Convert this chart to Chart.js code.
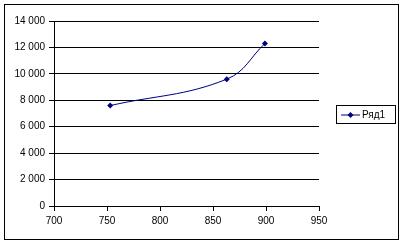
<!DOCTYPE html>
<html>
<head>
<meta charset="utf-8">
<script src="https://cdn.jsdelivr.net/npm/chart.js@4/dist/chart.umd.min.js"></script>
<style>
html,body{margin:0;padding:0;background:#fff;}
#wrap{width:403px;height:245px;position:relative;}
</style>
</head>
<body>
<div id="wrap"><canvas id="c" width="403" height="245"></canvas></div>
<script>
const seriesName = "Ряд1";
const xValues = [753, 863, 899];
const yValues = [7600, 9600, 12300];
const xTicks = [700, 750, 800, 850, 900, 950];
const yTicks = [0, 2000, 4000, 6000, 8000, 10000, 12000, 14000];

const NAVY = '#000080';
const FONT = {family: 'Liberation Sans, Arial, sans-serif', size: 10};

function fmt(v){ return String(v).replace(/\B(?=(\d{3})+(?!\d))/g, ' '); }

const frame = {
  id: 'frame',
  beforeDraw(chart){
    const ctx = chart.ctx;
    ctx.save();
    ctx.fillStyle = '#fff';
    ctx.fillRect(0,0,chart.width,chart.height);
    ctx.strokeStyle = '#000';
    ctx.lineWidth = 1;
    ctx.strokeRect(4.5, 4.5, 394, 235);
    ctx.restore();
  },
  afterDraw(chart){
    const ctx = chart.ctx;
    ctx.save();
    // legend box
    ctx.strokeStyle = '#000';
    ctx.lineWidth = 1;
    ctx.strokeRect(336.5, 105.5, 59, 18);
    const cy = 115;
    ctx.strokeStyle = NAVY;
    ctx.beginPath(); ctx.moveTo(341, cy); ctx.lineTo(360, cy); ctx.stroke();
    ctx.fillStyle = NAVY;
    ctx.beginPath();
    ctx.moveTo(350.5, cy-3); ctx.lineTo(353.5, cy); ctx.lineTo(350.5, cy+3); ctx.lineTo(347.5, cy); ctx.closePath(); ctx.fill();
    ctx.fillStyle = '#000';
    ctx.font = '10px "Liberation Sans", Arial, sans-serif';
    ctx.textBaseline = 'middle';
    ctx.textAlign = 'left';
    ctx.fillText(chart.data.datasets[0].label, 362, cy);
    ctx.restore();
  }
};

new Chart(document.getElementById('c'), {
  type: 'scatter',
  data: {
    datasets: [{
      label: seriesName,
      data: xValues.map((x,i)=>({x:x, y:yValues[i]})),
      showLine: true,
      borderColor: NAVY,
      borderWidth: 1,
      backgroundColor: NAVY,
      pointStyle: 'rectRot',
      pointRadius: 3,
      pointBorderWidth: 0,
      tension: 0.4
    }]
  },
  options: {
    responsive: false,
    animation: false,
    devicePixelRatio: 1,
    layout: {padding: {left: 0, top: 21, right: 84, bottom: 0}},
    plugins: {legend: {display: false}, tooltip: {enabled: false}},
    scales: {
      x: {
        type: 'linear',
        min: xTicks[0], max: xTicks[xTicks.length-1],
        afterBuildTicks(s){ s.ticks = xTicks.map(v=>({value:v})); },
        afterFit(s){ s.height = 39; },
        grid: {drawOnChartArea: false, drawTicks: true, tickLength: 5, color: '#000', tickColor: '#000'},
        border: {display: true, color: '#000', width: 1},
        ticks: {color: '#000', font: FONT, padding: 4, maxRotation: 0, callback: v => String(v)}
      },
      y: {
        type: 'linear',
        min: yTicks[0], max: yTicks[yTicks.length-1],
        afterBuildTicks(s){ s.ticks = yTicks.map(v=>({value:v})); },
        afterFit(s){ s.width = 54; },
        grid: {drawOnChartArea: true, drawTicks: true, tickLength: 5, color: '#000', tickColor: '#000'},
        border: {display: true, color: '#000', width: 1},
        ticks: {color: '#000', font: FONT, padding: 4, callback: v => fmt(v)}
      }
    }
  },
  plugins: [frame]
});
</script>
</body>
</html>
